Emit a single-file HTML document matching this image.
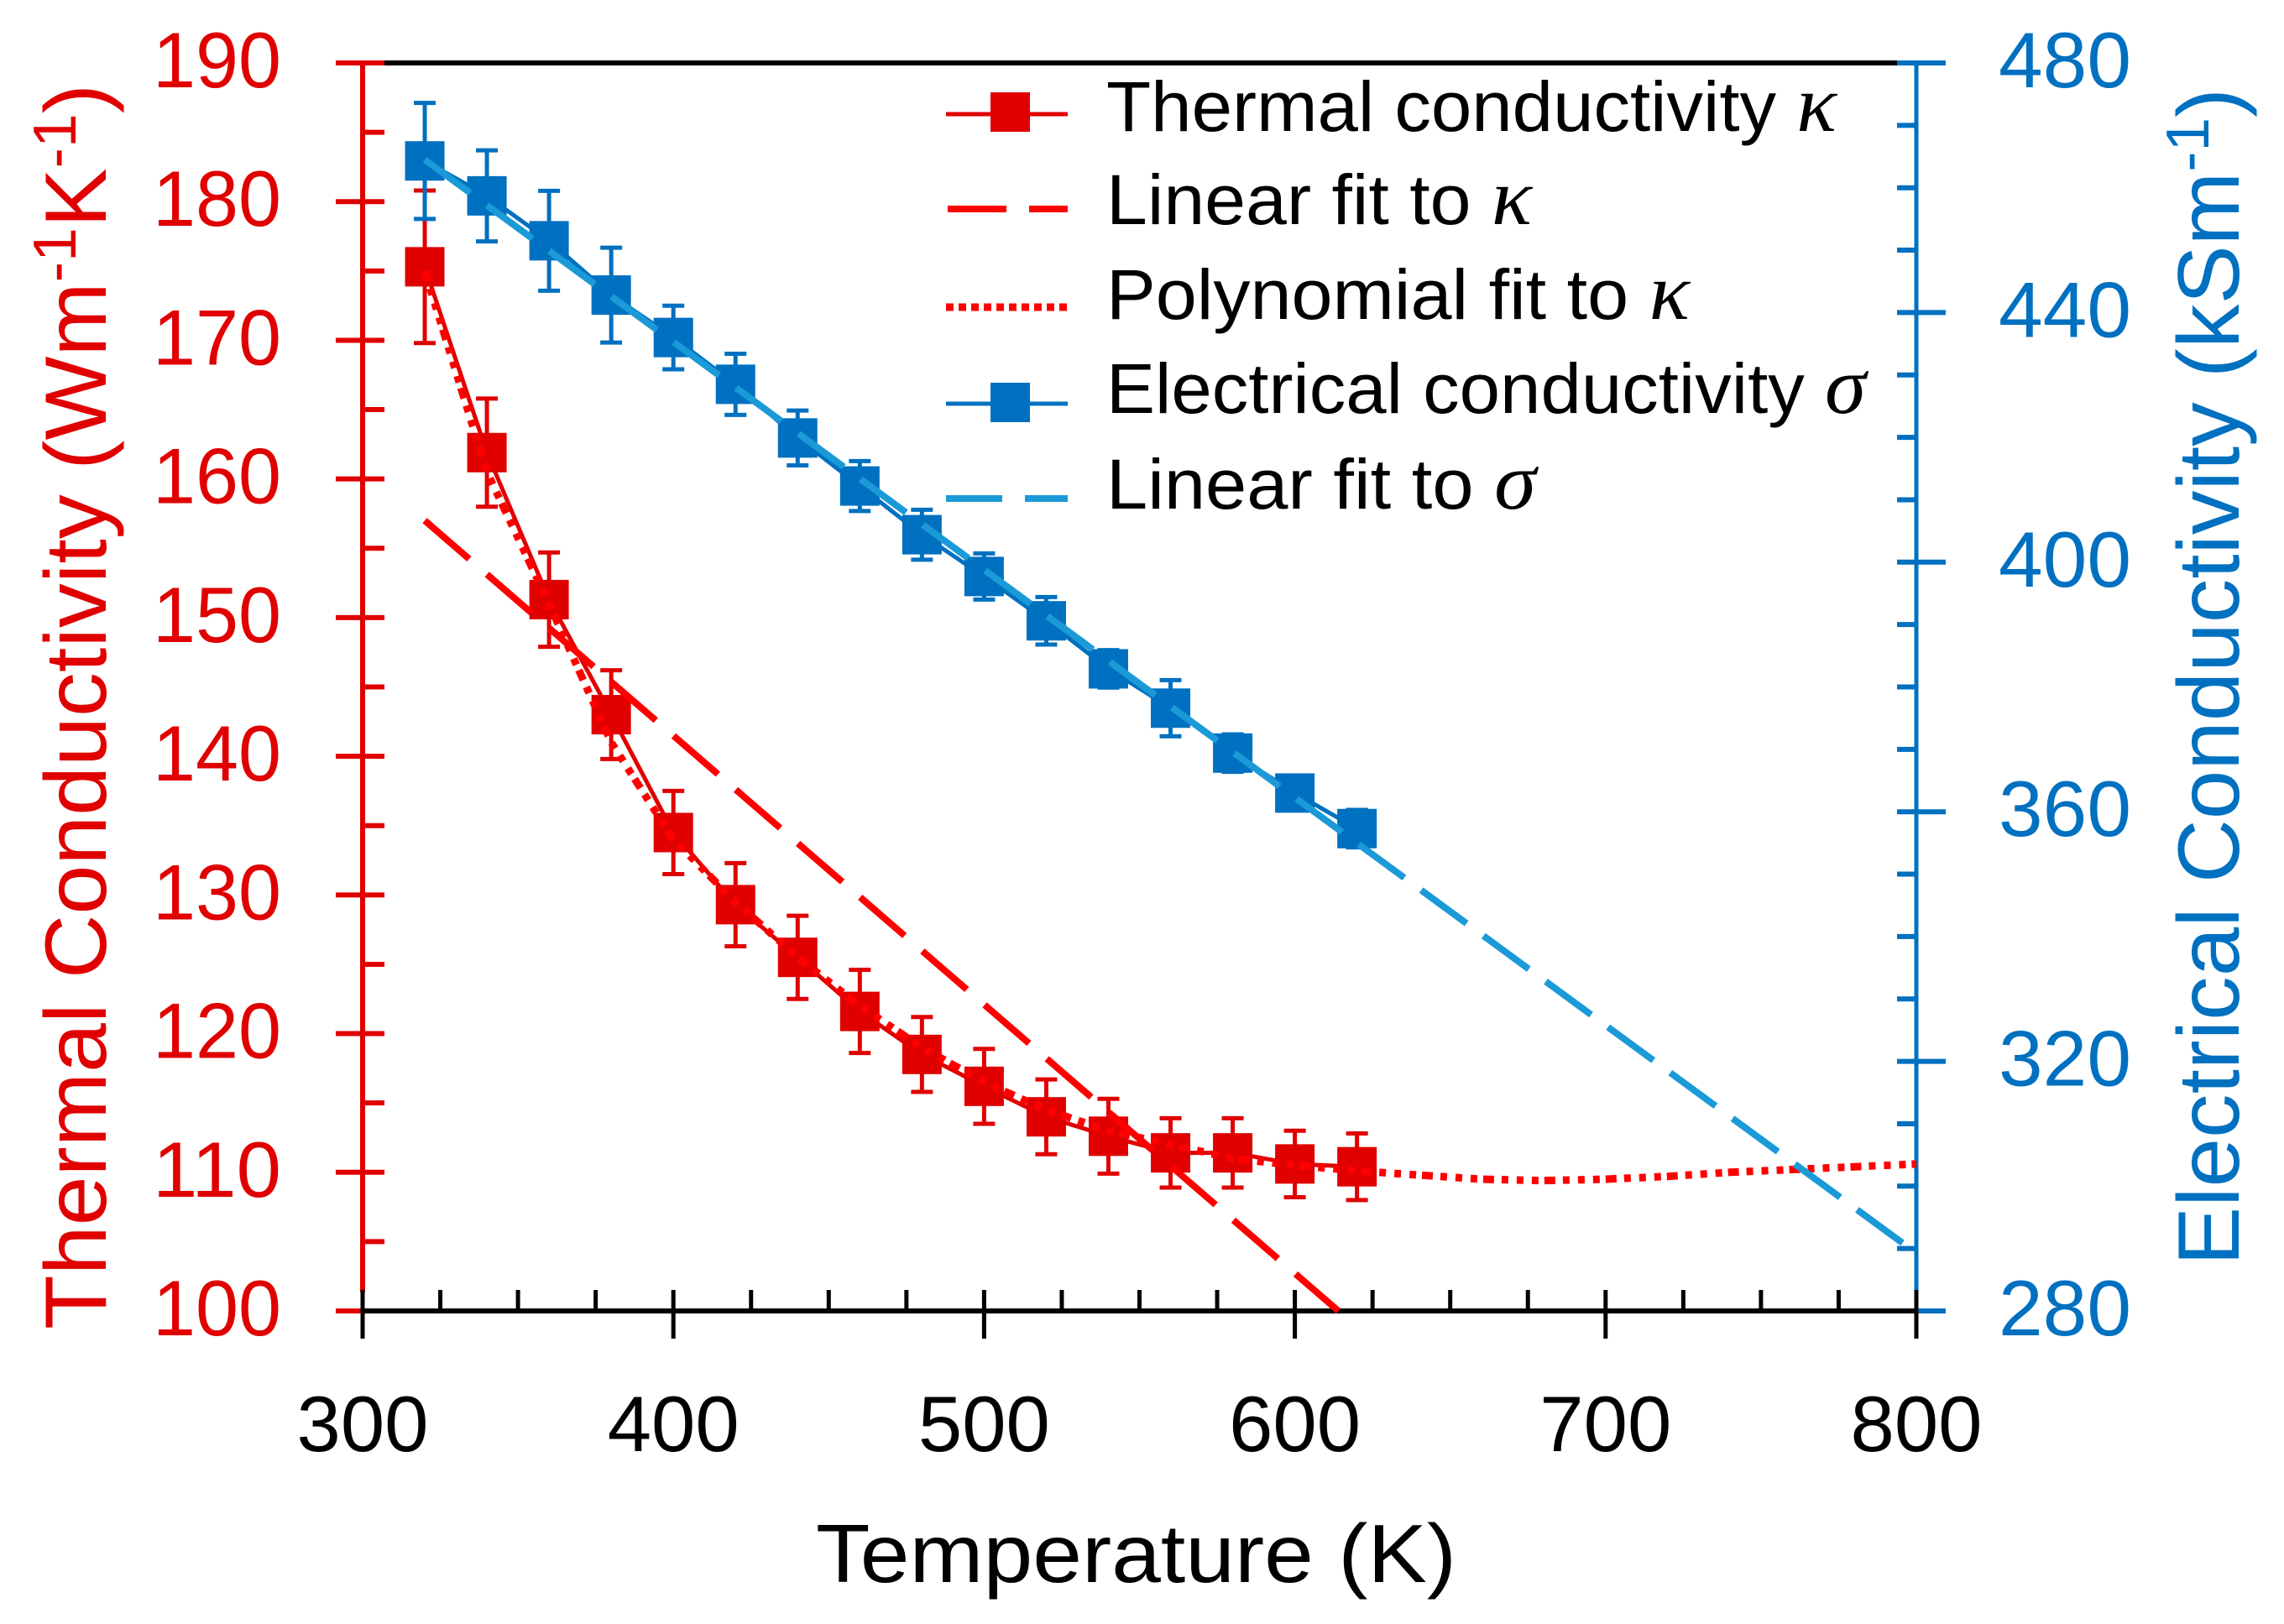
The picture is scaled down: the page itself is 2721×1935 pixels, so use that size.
<!DOCTYPE html>
<html lang="en">
<head>
<meta charset="utf-8">
<title>Thermal and Electrical Conductivity vs Temperature</title>
<style>
  html, body { margin: 0; padding: 0; background: #ffffff; }
  svg { display: block; }
  text { font-family: "Liberation Sans", sans-serif; }
  .kappa-sym { font-family: "Liberation Serif", serif; font-style: italic; font-size: 96px; }
</style>
</head>
<body>
<svg id="chart" xmlns="http://www.w3.org/2000/svg" width="2721" height="1935" viewBox="0 0 2721 1935">
  <rect x="0" y="0" width="2721" height="1935" fill="#ffffff"/>
  <g id="axes-under"></g>
  <g id="marks"></g>
  <g id="labels"></g>

  <text transform="translate(126,1584) rotate(-90)" font-size="104" fill="#e00000" textLength="1484" lengthAdjust="spacingAndGlyphs">Thermal Conductivity (Wm<tspan font-size="72" dy="-36">-1</tspan><tspan dy="36">K</tspan><tspan font-size="72" dy="-36">-1</tspan><tspan dy="36">)</tspan></text>
  <text transform="translate(2667,1508) rotate(-90)" font-size="104" fill="#0070c0" textLength="1403" lengthAdjust="spacingAndGlyphs">Electrical Conductivity (kSm<tspan font-size="72" dy="-36">-1</tspan><tspan dy="36">)</tspan></text>
  <text x="972" y="1885" font-size="98" fill="#000000" textLength="763" lengthAdjust="spacingAndGlyphs">Temperature (K)</text>

  <g>
    <g>
      <line x1="1127" x2="1272" y1="136" y2="136" stroke="#e00000" stroke-width="5"/>
      <rect x="1180" y="110" width="47" height="47" fill="#e00000"/>
      <text x="1318" y="156" font-size="84" fill="#000" textLength="870" lengthAdjust="spacingAndGlyphs">Thermal conductivity <tspan class="kappa-sym">κ</tspan></text>
    </g>
    <g>
      <line x1="1129" x2="1272" y1="249" y2="249" stroke="#ff0000" stroke-width="8" stroke-dasharray="70 27"/>
      <text x="1318" y="267" font-size="84" fill="#000" textLength="507" lengthAdjust="spacingAndGlyphs">Linear fit to <tspan class="kappa-sym">κ</tspan></text>
    </g>
    <g>
      <line x1="1127" x2="1272" y1="366" y2="366" stroke="#ff0000" stroke-width="9" stroke-dasharray="9 6"/>
      <text x="1318" y="380" font-size="84" fill="#000" textLength="695" lengthAdjust="spacingAndGlyphs">Polynomial fit to <tspan class="kappa-sym">κ</tspan></text>
    </g>
    <g>
      <line x1="1127" x2="1272" y1="481" y2="481" stroke="#0070c0" stroke-width="5"/>
      <rect x="1180" y="456" width="47" height="47" fill="#0070c0"/>
      <text x="1318" y="492" font-size="84" fill="#000" textLength="905" lengthAdjust="spacingAndGlyphs">Electrical conductivity <tspan class="kappa-sym">σ</tspan></text>
    </g>
    <g>
      <line x1="1127" x2="1272" y1="594" y2="594" stroke="#1b9ad8" stroke-width="8" stroke-dasharray="67 27"/>
      <text x="1318" y="606" font-size="84" fill="#000" textLength="512" lengthAdjust="spacingAndGlyphs">Linear fit to <tspan class="kappa-sym">σ</tspan></text>
    </g>
  </g>
</svg>

<script>
// ---- chart data ----
const temperatures = [320,340,360,380,400,420,440,460,480,500,520,540,560,580,600,620];
const kappaValues = [175.3,161.9,151.3,143.0,134.5,129.3,125.5,121.6,118.5,116.2,114.0,112.6,111.4,111.4,110.6,110.4];
const kappaErrors = [5.5,3.9,3.4,3.2,3.0,3.0,3.0,3.0,2.7,2.7,2.7,2.7,2.5,2.5,2.4,2.4];
const sigmaValues = [464.3,458.7,451.5,442.8,436.0,428.5,419.9,412.2,404.4,397.7,390.6,382.9,376.6,369.4,363.0,357.3];
const sigmaErrors = [9.3,7.3,8.0,7.6,5.1,4.9,4.4,4.0,4.0,3.7,3.8,3.0,4.5,3.0,2.7,3.0];
const kappaLinearT = [320,614];
const kappaLinearValues = [157,100];
const polyT = [320,340,360,380,400,420,440,460,480,500,520,540,560,580,600,620,640,660,680,700,720,740,760,780,800];
const polyValues = [175,160.5,151,141,134,129.5,125.5,122,119,116.5,114.5,113,112,111,110.5,110.1,109.8,109.5,109.4,109.5,109.7,110,110.2,110.4,110.6];
const sigmaLinearT = [320,798];
const sigmaLinearValues = [464.5,290];
const xTickLabels = [300,400,500,600,700,800];
const xMinorTicks = [325,350,375,425,450,475,525,550,575,625,650,675,725,750,775];
const leftTickLabels = [100,110,120,130,140,150,160,170,180,190];
const leftMinorTicks = [105,115,125,135,145,155,165,175,185];
const rightTickLabels = [280,320,360,400,440,480];
const rightMinorTicks = [290,300,310,330,340,350,370,380,390,410,420,430,450,460,470];

// ---- axis functions ----
const X0 = 432, X1 = 2283, YB = 1562, YT = 75;
function xPos(t) { return X0 + (t - 300) * (X1 - X0) / 500; }
function yLeft(v) { return YB - (v - 100) * (YB - YT) / 90; }
function yRight(v) { return YB - (v - 280) * (YB - YT) / 200; }

const RED = '#e00000', BLUE = '#0070c0', BRIGHT = '#ff0000', LIGHTBLUE = '#1b9ad8';
const NS = 'http://www.w3.org/2000/svg';
const axesG = document.getElementById('axes-under');
const marksG = document.getElementById('marks');
const labelsG = document.getElementById('labels');

function mkLine(parent, x1, y1, x2, y2, color, w) {
  const l = document.createElementNS(NS, 'line');
  l.setAttribute('x1', x1); l.setAttribute('y1', y1);
  l.setAttribute('x2', x2); l.setAttribute('y2', y2);
  l.setAttribute('stroke', color); l.setAttribute('stroke-width', w);
  parent.appendChild(l);
  return l;
}
function mkPath(parent, ts, vs, yFn, color, w, dash) {
  const p = document.createElementNS(NS, 'path');
  p.setAttribute('d', ts.map((t, i) => (i ? 'L' : 'M') + xPos(t).toFixed(1) + ' ' + yFn(vs[i]).toFixed(1)).join(' '));
  p.setAttribute('fill', 'none');
  p.setAttribute('stroke', color);
  p.setAttribute('stroke-width', w);
  if (dash) p.setAttribute('stroke-dasharray', dash);
  parent.appendChild(p);
  return p;
}
function mkText(parent, x, y, str, color, anchor, len) {
  const t = document.createElementNS(NS, 'text');
  t.setAttribute('x', x); t.setAttribute('y', y);
  t.setAttribute('font-size', 94);
  t.setAttribute('fill', color);
  t.setAttribute('text-anchor', anchor);
  t.setAttribute('textLength', len);
  t.setAttribute('lengthAdjust', 'spacingAndGlyphs');
  t.textContent = str;
  parent.appendChild(t);
  return t;
}

// ---- axes ----
let el;
el = mkLine(axesG, 458, YT, 2260, YT, '#000000', 6);


el = mkLine(axesG, X0, YT - 3, X0, 1540, RED, 6);


el = mkLine(axesG, X1, YT - 3, X1, 1540, BLUE, 5);



leftTickLabels.forEach(v => {
  const tk = mkLine(axesG, 400, yLeft(v), v === 100 ? 432 : 458, yLeft(v), RED, 6);
  
  
  const lb = mkText(labelsG, 335, yLeft(v) + 29, String(v), RED, 'end', 153);
  
  
});
leftMinorTicks.forEach(v => {
  const tk = mkLine(axesG, X0, yLeft(v), 458, yLeft(v), RED, 6);
  
  
});
rightTickLabels.forEach(v => {
  const tk = mkLine(axesG, v === 280 ? X1 : 2260, yRight(v), 2318, yRight(v), BLUE, 6);
  
  
  const lb = mkText(labelsG, 2381, yRight(v) + 29, String(v), BLUE, 'start', 158);
  
  
});
rightMinorTicks.forEach(v => {
  const tk = mkLine(axesG, 2260, yRight(v), X1, yRight(v), BLUE, 6);
  
  
});
el = mkLine(axesG, X0 - 2, YB, X1 + 2, YB, '#000000', 6);


xTickLabels.forEach(v => {
  const tk = mkLine(axesG, xPos(v), 1537, xPos(v), 1595, '#000000', 5);
  
  
  const lb = mkText(labelsG, xPos(v), 1729, String(v), '#000000', 'middle', 157);
  
  
});
xMinorTicks.forEach(v => {
  const tk = mkLine(axesG, xPos(v), 1537, xPos(v), YB, '#000000', 5);
  
  
});

// ---- series ----
function drawErrorBars(values, errors, yFn, color) {
  temperatures.forEach((t, i) => {
    const x = xPos(t), hi = yFn(values[i] + errors[i]), lo = yFn(values[i] - errors[i]);
    const bar = mkLine(marksG, x, hi, x, lo, color, 5);
    
    
    const capTop = mkLine(marksG, x - 13, hi, x + 13, hi, color, 5);
    
    
    const capBottom = mkLine(marksG, x - 13, lo, x + 13, lo, color, 5);
    
    
  });
}
function drawMarkers(values, yFn, color, name) {
  temperatures.forEach((t, i) => {
    const r = document.createElementNS(NS, 'rect');
    r.setAttribute('x', xPos(t) - 23.5);
    r.setAttribute('y', yFn(values[i]) - 23.5);
    r.setAttribute('width', 47);
    r.setAttribute('height', 47);
    r.setAttribute('fill', color);
    
    
    marksG.appendChild(r);
  });
}

el = mkPath(marksG, temperatures, kappaValues, yLeft, RED, 5);


drawErrorBars(kappaValues, kappaErrors, yLeft, RED);
drawMarkers(kappaValues, yLeft, RED, 'kappa-marker');

el = mkPath(marksG, temperatures, sigmaValues, yRight, BLUE, 5);


drawErrorBars(sigmaValues, sigmaErrors, yRight, BLUE);
drawMarkers(sigmaValues, yRight, BLUE, 'sigma-marker');

el = mkPath(marksG, kappaLinearT, kappaLinearValues, yLeft, BRIGHT, 8, '70 28');


el = mkPath(marksG, polyT, polyValues, yLeft, BRIGHT, 9, '13 9 8 10 8 10 8 7');


el = mkPath(marksG, sigmaLinearT, sigmaLinearValues, yRight, LIGHTBLUE, 8, '67 25');


</script>
</body>
</html>
